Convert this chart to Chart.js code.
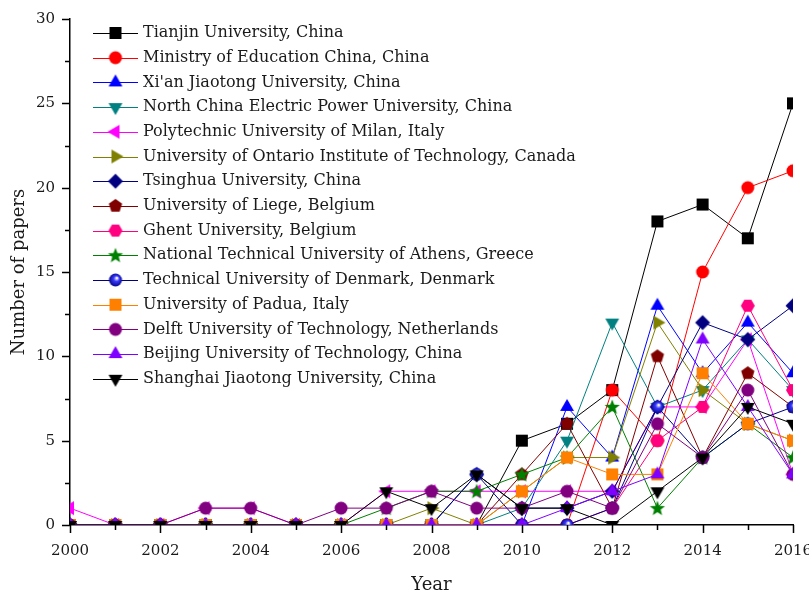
<!DOCTYPE html>
<html>
<head>
<meta charset="utf-8">
<style>
  html, body { margin: 0; padding: 0; background: #fff; }
  #chart { display: block; }
</style>
<script src="https://cdn.jsdelivr.net/npm/chart.js@4"></script>
</head>
<body>
<canvas id="chart" width="809" height="596"></canvas>
<script>
/* ── DATA ── */
const years = ['2000','2001','2002','2003','2004','2005','2006','2007','2008',
               '2009','2010','2011','2012','2013','2014','2015','2016'];

const tianjin  = [0,0,0,0,0,0,0,0,0,0,5,6,8,18,19,17,25];
const ministry = [0,0,0,0,0,0,0,0,0,0,0,0,8,5,15,20,21];
const xian     = [0,0,0,0,0,0,0,0,0,0,0,7,4,13,9,12,9];
const ncepu    = [0,0,0,0,0,0,0,0,0,0,1,5,12,7,8,11,8];
const milan    = [1,0,0,1,1,0,0,2,2,2,2,2,2,7,7,11,3];
const ontario  = [0,0,0,0,0,0,0,0,1,0,2,4,4,12,8,6,5];
const tsinghua = [0,0,0,0,0,0,0,0,0,3,1,1,2,7,12,11,13];
const liege    = [0,0,0,0,0,0,0,0,0,0,3,6,1,10,4,9,7];
const ghent    = [0,0,0,0,0,0,0,0,0,0,0,0,1,5,7,13,8];
const athens   = [0,0,0,0,0,0,0,1,2,2,3,4,7,1,4,6,4];
const denmark  = [0,0,0,0,0,0,0,0,0,3,0,0,1,7,4,6,7];
const padua    = [0,0,0,0,0,0,0,0,0,0,2,4,3,3,9,6,5];
const delft    = [0,0,0,1,1,0,1,1,2,1,1,2,1,6,4,8,3];
const beijing  = [0,0,0,0,0,0,0,0,0,0,0,1,2,3,11,7,3];
const shanghai = [0,0,0,0,0,0,0,2,1,3,1,1,0,2,4,7,6];

const yTicks = [0, 5, 10, 15, 20, 25, 30];

/* ── MARKERS ── */
function makeMarker(shape, color) {
  const s = 18, c = s / 2;
  const cv = document.createElement('canvas');
  cv.width = s; cv.height = s;
  const g = cv.getContext('2d');
  g.fillStyle = color;
  g.beginPath();
  const poly = (n, r, start) => {
    for (let i = 0; i < n; i++) {
      const a = start + i * 2 * Math.PI / n;
      const px = c + r * Math.cos(a), py = c + r * Math.sin(a);
      i ? g.lineTo(px, py) : g.moveTo(px, py);
    }
    g.closePath();
  };
  if (shape === 'square') g.rect(c - 6, c - 6, 12, 12);
  else if (shape === 'circle') g.arc(c, c, 6.5, 0, Math.PI * 2);
  else if (shape === 'up') poly(3, 8, -Math.PI / 2);
  else if (shape === 'down') poly(3, 8, Math.PI / 2);
  else if (shape === 'left') poly(3, 8, Math.PI);
  else if (shape === 'right') poly(3, 8, 0);
  else if (shape === 'diamond') poly(4, 7.5, -Math.PI / 2);
  else if (shape === 'pentagon') poly(5, 7, -Math.PI / 2);
  else if (shape === 'hexagon') poly(6, 7, 0);
  else if (shape === 'star') {
    for (let i = 0; i < 10; i++) {
      const r = i % 2 ? 3.4 : 8;
      const a = -Math.PI / 2 + i * Math.PI / 5;
      const px = c + r * Math.cos(a), py = c + 0.5 + r * Math.sin(a);
      i ? g.lineTo(px, py) : g.moveTo(px, py);
    }
    g.closePath();
  } else if (shape === 'ball') {
    const grd = g.createRadialGradient(c + 1.5, c - 2, 0.5, c, c, 7);
    grd.addColorStop(0, '#ffffff');
    grd.addColorStop(0.35, '#3a3aff');
    grd.addColorStop(1, color);
    g.fillStyle = grd;
    g.arc(c, c, 6.5, 0, Math.PI * 2);
  }
  g.fill();
  return cv;
}

const series = [
  { label: 'Tianjin University, China',                         data: tianjin,  color: '#000000', shape: 'square' },
  { label: 'Ministry of Education China, China',                data: ministry, color: '#ff0000', shape: 'circle' },
  { label: "Xi'an Jiaotong University, China",                  data: xian,     color: '#0000ff', shape: 'up' },
  { label: 'North China Electric Power University, China',      data: ncepu,    color: '#008080', shape: 'down' },
  { label: 'Polytechnic University of Milan, Italy',            data: milan,    color: '#ff00ff', shape: 'left' },
  { label: 'University of Ontario Institute of Technology, Canada', data: ontario, color: '#808000', shape: 'right' },
  { label: 'Tsinghua University, China',                        data: tsinghua, color: '#000080', shape: 'diamond' },
  { label: 'University of Liege, Belgium',                       data: liege,    color: '#800000', shape: 'pentagon' },
  { label: 'Ghent University, Belgium',                          data: ghent,    color: '#ff0080', shape: 'hexagon' },
  { label: 'National Technical University of Athens, Greece',    data: athens,   color: '#008000', shape: 'star' },
  { label: 'Technical University of Denmark, Denmark',           data: denmark,  color: '#000080', shape: 'ball' },
  { label: 'University of Padua, Italy',                         data: padua,    color: '#ff8000', shape: 'square' },
  { label: 'Delft University of Technology, Netherlands',        data: delft,    color: '#800080', shape: 'circle' },
  { label: 'Beijing University of Technology, China',            data: beijing,  color: '#8000ff', shape: 'up' },
  { label: 'Shanghai Jiaotong University, China',                data: shanghai, color: '#000000', shape: 'down' },
];
series.forEach(s => { s.marker = makeMarker(s.shape, s.color); });

/* ── PLUGINS ── */
const FONT = '"DejaVu Serif", "Liberation Serif", serif';

// minor + major tick marks outside the axes
const tickMarks = {
  id: 'tickMarks',
  afterDraw(chart) {
    const { ctx, chartArea: a, scales: { x, y } } = chart;
    ctx.save();
    ctx.strokeStyle = '#000';
    ctx.lineWidth = 1.5;
    ctx.beginPath();
    for (let v = 0; v <= 30; v += 2.5) {
      const py = Math.round(y.getPixelForValue(v)) + 0.5;
      const len = v % 5 === 0 ? 8 : 5;
      ctx.moveTo(a.left - len, py); ctx.lineTo(a.left, py);
    }
    for (let i = 0; i < years.length; i++) {
      const px = Math.round(x.getPixelForValue(i)) + 0.5;
      const len = i % 2 === 0 ? 8 : 5;
      ctx.moveTo(px, a.bottom); ctx.lineTo(px, a.bottom + len);
    }
    ctx.stroke();
    ctx.restore();
  }
};

// legend in the upper-left of the plot
const seriesLegend = {
  id: 'seriesLegend',
  afterDraw(chart) {
    const { ctx } = chart;
    ctx.save();
    ctx.font = '16px ' + FONT;
    ctx.textBaseline = 'middle';
    ctx.fillStyle = '#1a1a1a';
    series.forEach((s, i) => {
      const yy = 33 + i * 24.7;
      ctx.strokeStyle = s.color;
      ctx.lineWidth = 1;
      ctx.beginPath();
      ctx.moveTo(93, Math.round(yy) + 0.5); ctx.lineTo(138, Math.round(yy) + 0.5);
      ctx.stroke();
      ctx.drawImage(s.marker, 115.5 - s.marker.width / 2, yy - s.marker.height / 2);
      ctx.fillText(s.label, 143, yy);
    });
    ctx.restore();
  }
};

/* ── CHART ── */
new Chart(document.getElementById('chart'), {
  type: 'line',
  data: {
    labels: years,
    datasets: series.map((s, i) => ({
      label: s.label,
      data: s.data,
      borderColor: s.color,
      backgroundColor: s.color,
      borderWidth: 1,
      pointStyle: s.marker,
      tension: 0,
      clip: 0,
      order: series.length - i
    }))
  },
  options: {
    responsive: false,
    animation: false,
    layout: { padding: { left: 0, right: 16, top: 19, bottom: 0 } },
    plugins: { legend: { display: false }, tooltip: { enabled: false } },
    scales: {
      x: {
        type: 'category',
        offset: false,
        grid: { display: false },
        border: { display: true, color: '#000', width: 1.5 },
        ticks: {
          autoSkip: false, maxRotation: 0, padding: 9, color: '#1a1a1a',
          font: { family: FONT, size: 15 },
          callback: (v, i) => i % 2 === 0 ? years[i] : ''
        },
        title: { display: true, text: 'Year', color: '#1a1a1a', padding: { top: 7, bottom: 0 },
                 font: { family: FONT, size: 18 } },
        afterFit: s => { s.height = 71; s.paddingLeft = 0; s.paddingRight = 0; }
      },
      y: {
        min: 0, max: 30,
        grid: { display: false },
        border: { display: true, color: '#000', width: 1.5 },
        afterBuildTicks: s => { s.ticks = yTicks.map(v => ({ value: v })); },
        ticks: { padding: 7, color: '#1a1a1a', font: { family: FONT, size: 15 } },
        title: { display: true, text: 'Number of papers', color: '#1a1a1a', padding: { top: 9, bottom: 0 },
                 font: { family: FONT, size: 18 } },
        afterFit: s => { s.width = 70; s.paddingTop = 0; s.paddingBottom = 0; }
      }
    }
  },
  plugins: [tickMarks, seriesLegend]
});
</script>
</body>
</html>
